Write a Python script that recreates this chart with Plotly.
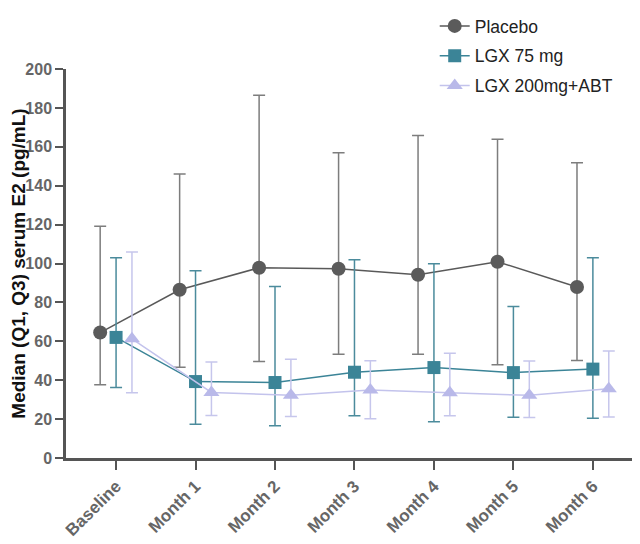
import plotly.graph_objects as go

# Visits on the x axis
visits = ["Baseline", "Month 1", "Month 2", "Month 3", "Month 4", "Month 5", "Month 6"]

# Median and quartiles of serum E2 (pg/mL)
placebo_med = [64.5, 86.5, 97.8, 97.3, 94.2, 100.9, 87.9]
placebo_q1 = [37.6, 46.7, 49.6, 53.4, 53.4, 47.9, 50.1]
placebo_q3 = [119.1, 146.0, 186.5, 156.9, 165.8, 163.9, 151.8]

lgx75_med = [62.0, 39.3, 38.8, 44.1, 46.5, 43.9, 45.7]
lgx75_q1 = [36.2, 17.3, 16.6, 21.7, 18.6, 21.0, 20.5]
lgx75_q3 = [103.0, 96.3, 88.2, 101.9, 99.9, 77.9, 103.0]

lgx200_med = [61.3, 33.7, 32.3, 34.9, 33.6, 32.2, 35.6]
lgx200_q1 = [33.6, 21.9, 21.4, 20.2, 21.7, 20.8, 21.1]
lgx200_q3 = [105.9, 49.3, 50.8, 50.0, 53.9, 49.9, 55.0]

series = [
    ("Placebo", placebo_med, placebo_q1, placebo_q3, -0.2,
     "circle", 14, "#5b5b5b", "#595959", "#7d7d7d"),
    ("LGX 75 mg", lgx75_med, lgx75_q1, lgx75_q3, 0.0,
     "square", 13, "#3b8497", "#3b8497", "#4b8b9c"),
    ("LGX 200mg+ABT", lgx200_med, lgx200_q1, lgx200_q3, 0.2,
     "triangle-up", 14, "#b9b9e9", "#c3c3ec", "#c6c6ec"),
]

fig = go.Figure()

for i, (name, med, q1, q3, off, sym, size, mcol, lcol, ecol) in enumerate(series):
    xs = [k + off for k in range(len(visits))]
    fig.add_trace(go.Scatter(
        x=xs,
        y=med,
        mode="lines+markers",
        name=name,
        legendgroup=f"g{i}",
        line=dict(color=lcol, width=1.5),
        marker=dict(symbol=sym, size=size, color=mcol, line=dict(width=0)),
        error_y=dict(
            type="data",
            symmetric=False,
            array=[h - m for h, m in zip(q3, med)],
            arrayminus=[m - l for m, l in zip(med, q1)],
            color=ecol,
            thickness=1.5,
            width=6,
        ),
    ))

# the page body adds an 8px margin, so the figure is 8px smaller each way.
# plot area runs to the top of the figure so the legend sits inside it;
# the y axis itself only fills the lower part
fig.update_layout(
    width=632,
    height=536,
    margin=dict(l=58, r=5, t=0, b=86),
    paper_bgcolor="white",
    plot_bgcolor="white",
    font=dict(family="Liberation Sans, Arial, sans-serif"),
    showlegend=True,
    legend=dict(
        x=0.648,
        y=1.0,
        xanchor="left",
        yanchor="top",
        font=dict(size=17.5, color="#222222"),
        tracegroupgap=4,
        bgcolor="rgba(0,0,0,0)",
        itemwidth=30,
    ),
    xaxis=dict(
        automargin=False,
        range=[-0.63, 6.53],
        tickvals=list(range(len(visits))),
        ticktext=visits,
        tickangle=-45,
        showgrid=False,
        zeroline=False,
        showline=True,
        linecolor="#555555",
        linewidth=2.5,
        ticks="outside",
        ticklen=9,
        tickwidth=2,
        tickcolor="#555555",
        tickfont=dict(size=17, color="#666666", weight="bold"),
    ),
    yaxis=dict(
        automargin=False,
        domain=[0, 389 / 450],
        range=[0, 200],
        tickvals=list(range(0, 201, 20)),
        showgrid=False,
        zeroline=False,
        showline=True,
        linecolor="#555555",
        linewidth=2.5,
        ticks="outside",
        ticklen=8,
        tickwidth=2,
        tickcolor="#555555",
        tickfont=dict(size=16, color="#666666", weight="bold"),
        title=dict(
            text="<b>Median (Q1, Q3) serum E2 (pg/mL)</b>",
            font=dict(size=19, color="#111111"),
        ),
    ),
)

fig.write_html("out.html")
